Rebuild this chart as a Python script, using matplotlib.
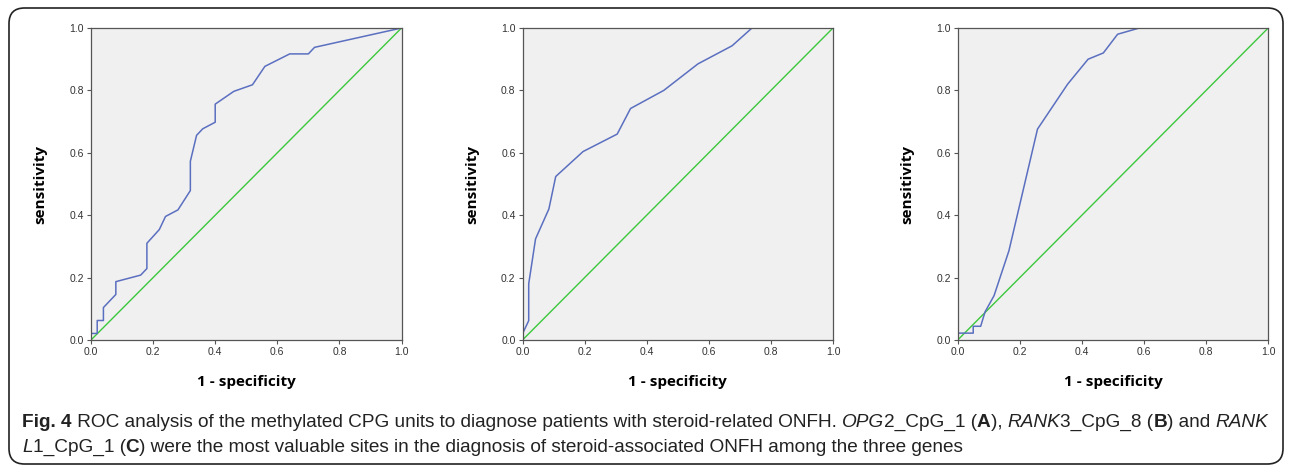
import matplotlib
matplotlib.use("Agg")
import matplotlib.pyplot as plt
from matplotlib.patches import FancyBboxPatch

# ROC points (1 - specificity, sensitivity)
fpr_a = [0.0, 0.0, 0.02, 0.02, 0.04, 0.04, 0.08, 0.08, 0.16, 0.18, 0.18, 0.22, 0.24, 0.28,
         0.32, 0.32, 0.34, 0.36, 0.40, 0.40, 0.46, 0.52, 0.56, 0.64, 0.70, 0.72, 1.0]
tpr_a = [0.0, 0.021, 0.021, 0.0625, 0.0625, 0.104, 0.146, 0.187, 0.208, 0.229, 0.31, 0.354,
         0.396, 0.417, 0.479, 0.573, 0.656, 0.677, 0.698, 0.756, 0.797, 0.818, 0.877, 0.917,
         0.917, 0.938, 1.0]
fpr_b = [0.0, 0.0, 0.02, 0.02, 0.042, 0.085, 0.107, 0.195, 0.305, 0.348, 0.455, 0.565,
         0.675, 0.739, 1.0]
tpr_b = [0.0, 0.02, 0.062, 0.18, 0.324, 0.42, 0.524, 0.604, 0.66, 0.742, 0.80, 0.885,
         0.943, 1.0, 1.0]
fpr_c = [0.0, 0.0, 0.05, 0.05, 0.074, 0.088, 0.117, 0.165, 0.257, 0.354, 0.42, 0.469,
         0.515, 0.585, 1.0]
tpr_c = [0.0, 0.022, 0.022, 0.044, 0.044, 0.09, 0.142, 0.286, 0.676, 0.82, 0.90, 0.92,
         0.98, 1.0, 1.0]
ticks = [0.0, 0.2, 0.4, 0.6, 0.8, 1.0]
tick_labels = ["0.0", "0.2", "0.4", "0.6", "0.8", "1.0"]

W, H = 1293, 468
fig = plt.figure(figsize=(W / 100, H / 100), dpi=100)

cap_font = "Liberation Sans"
lab_font = "Open Sans"

lefts = [91, 522.5, 957.7]
curves = [(fpr_a, tpr_a), (fpr_b, tpr_b), (fpr_c, tpr_c)]
for left, (fx, fy) in zip(lefts, curves):
    ax = fig.add_axes([left / W, 1 - 340 / H, 310.5 / W, 312 / H])
    ax.set_facecolor("#f0f0f0")
    ax.plot([0, 1], [0, 1], color="#3cc83c", lw=1.0)
    ax.plot(fx, fy, color="#5b6fc0", lw=1.1)
    ax.set_xlim(0, 1)
    ax.set_ylim(0, 1)
    ax.set_xticks(ticks)
    ax.set_yticks(ticks)
    ax.set_xticklabels(tick_labels, fontsize=7.5, color="#333333", family=cap_font)
    ax.set_yticklabels(tick_labels, fontsize=7.5, color="#333333", family=cap_font)
    ax.tick_params(length=3, width=0.8, color="#555555", pad=2)
    for s in ax.spines.values():
        s.set_color("#555555")
        s.set_linewidth(0.9)
    ax.set_xlabel("1 - specificity", fontsize=11, fontweight="bold", family=lab_font, labelpad=13)
    ax.set_ylabel("sensitivity", fontsize=11, fontweight="bold", family=lab_font, labelpad=16)

# rounded frame
frame = FancyBboxPatch((9 / W, 4 / H), 1274 / W, 456 / H,
                       boxstyle="round,pad=0,rounding_size=0.012",
                       transform=fig.transFigure, fill=False, ec="#222222", lw=1.2,
                       mutation_aspect=W / H)
fig.patches.append(frame)

# caption with mixed styles
line1 = [("Fig. 4", "bold", "normal"),
         (" ROC analysis of the methylated CPG units to diagnose patients with steroid-related ONFH. ", "normal", "normal"),
         ("OPG", "normal", "italic"), ("2_CpG_1 (", "normal", "normal"), ("A", "bold", "normal"),
         ("), ", "normal", "normal"), ("RANK", "normal", "italic"), ("3_CpG_8 (", "normal", "normal"),
         ("B", "bold", "normal"), (") and ", "normal", "normal"), ("RANK", "normal", "italic")]
line2 = [("L", "normal", "italic"), ("1_CpG_1 (", "normal", "normal"), ("C", "bold", "normal"),
         (") were the most valuable sites in the diagnosis of steroid-associated ONFH among the three genes", "normal", "normal")]

fig.canvas.draw()
renderer = fig.canvas.get_renderer()


def place(line, ybase, size):
    x = 22
    items = []
    for txt, wt, st in line:
        t = fig.text(x / W, 1 - ybase / H, txt, fontsize=size, family=cap_font,
                     fontweight=wt, style=st, color="#222222", va="baseline", ha="left")
        x += t.get_window_extent(renderer).width
        items.append(t)
    return x, items


# size the caption so the first line ends where the reference one does
end, items = place(line1, 427, 13)
size = 13 * (1275 - 22) / (end - 22)
for t in items:
    t.remove()
place(line1, 427, size)
place(line2, 452, size)

fig.savefig("out.png", dpi=100)
